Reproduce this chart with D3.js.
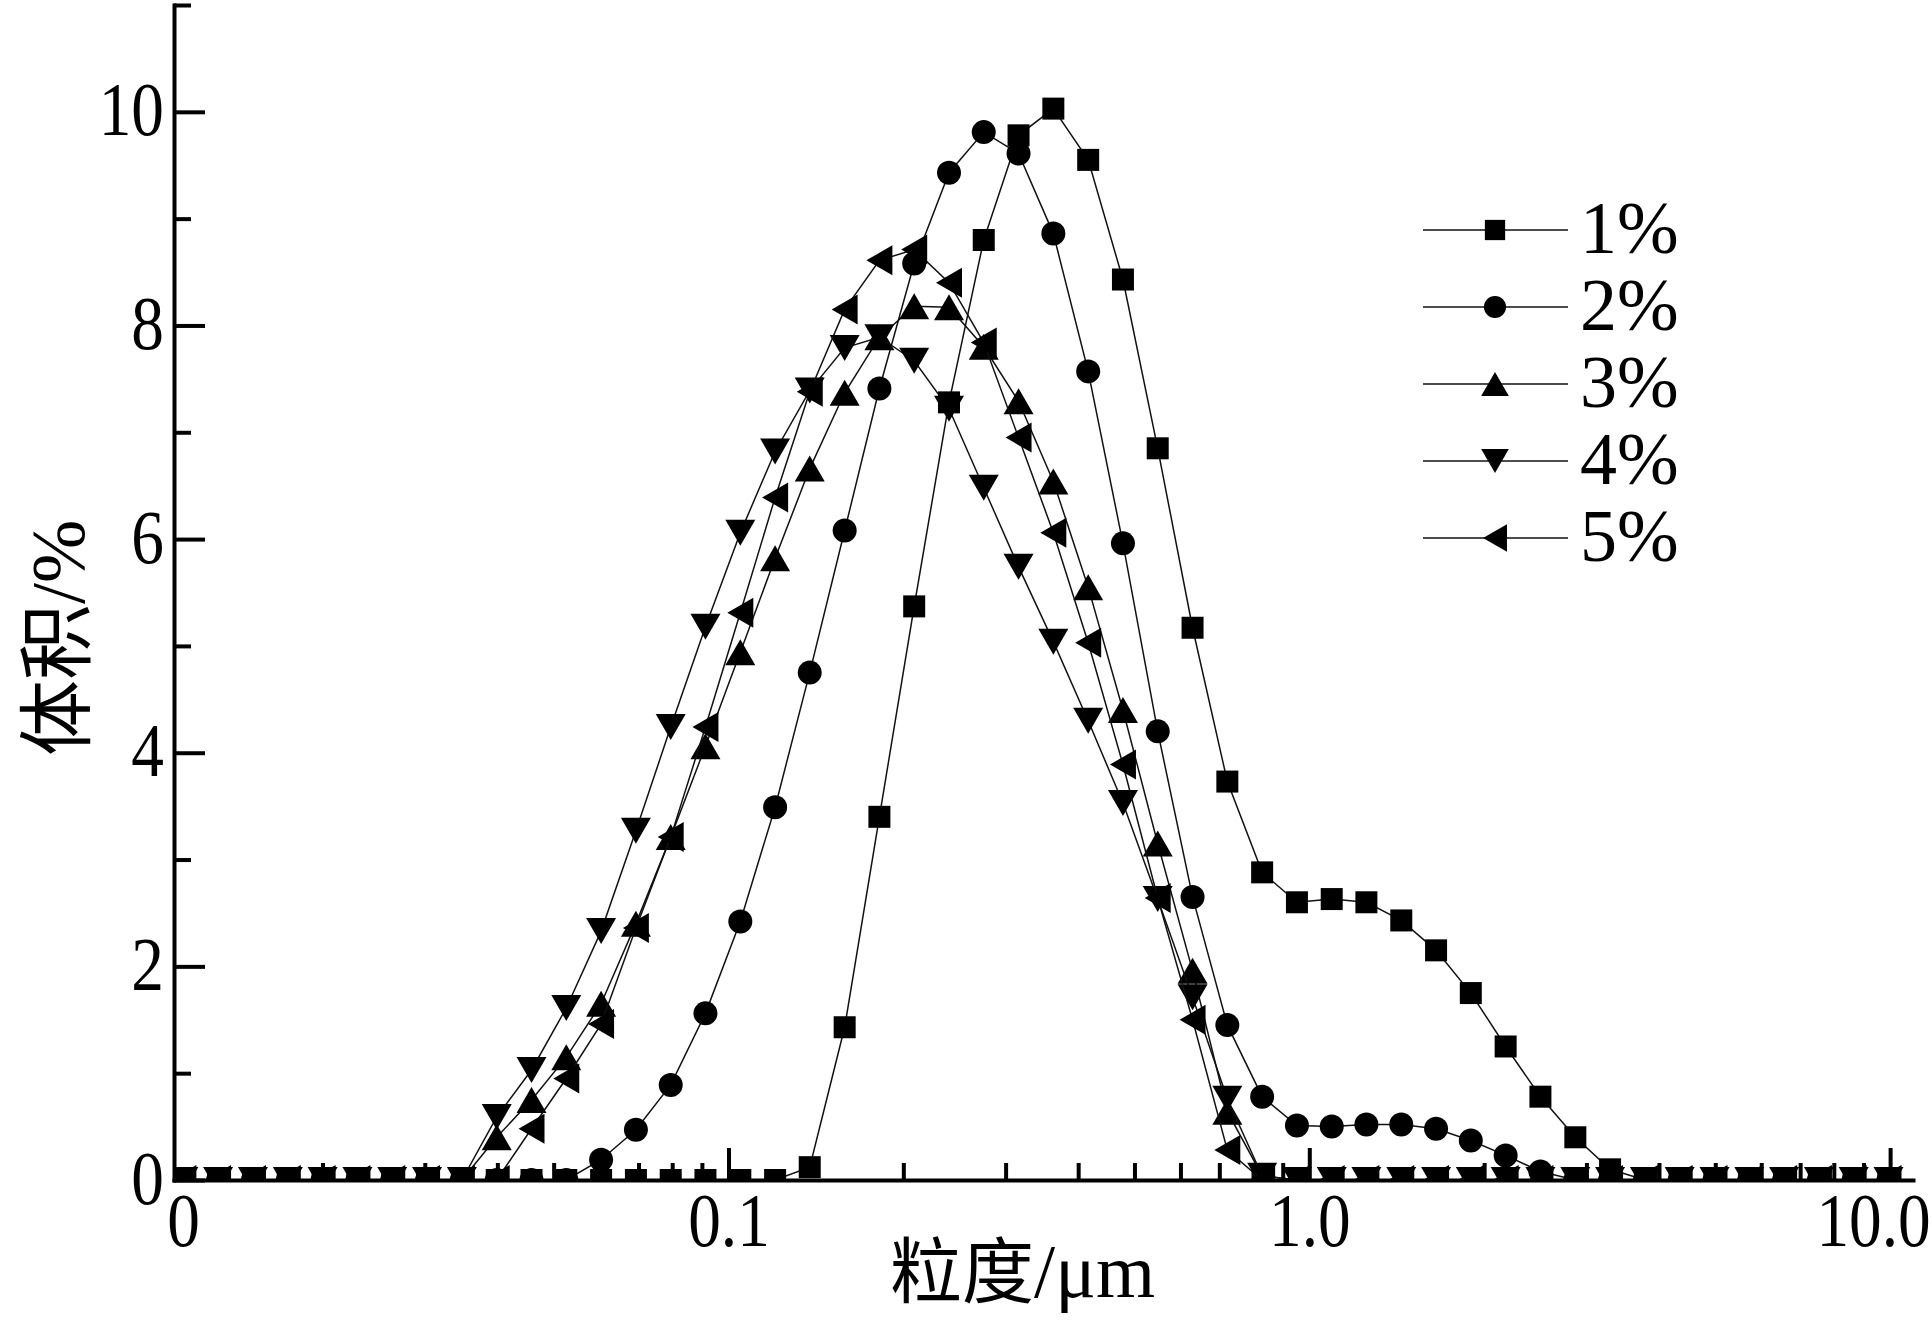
<!DOCTYPE html>
<html lang="zh">
<head>
<meta charset="utf-8">
<title>粒度分布</title>
<script src="https://cdn.jsdelivr.net/npm/d3@7"></script>
<style>
  body { margin: 0; background: #fff; }
  .serif { font-family: "Liberation Serif", "DejaVu Serif", serif; }
  .cjk { font-family: "Noto Sans CJK SC", sans-serif; }
</style>
</head>
<body>
<svg id="chart" width="1932" height="1322"></svg>
<script>
// particle size classes (µm)
var sizes = [0.01152, 0.01322, 0.01518, 0.01743, 0.02001, 0.02297, 0.02637, 0.03027, 0.03475, 0.03990,
             0.04580, 0.05257, 0.06035, 0.06928, 0.07953, 0.09127, 0.1048, 0.1203, 0.1380, 0.1585,
             0.1819, 0.2088, 0.2397, 0.2751, 0.3158, 0.3625, 0.4162, 0.4777, 0.5483, 0.6295,
             0.7226, 0.8295, 0.9522, 1.093, 1.254, 1.440, 1.653, 1.897, 2.178, 2.500,
             2.871, 3.295, 3.783, 4.342, 4.985, 5.722, 6.569, 7.541, 8.656, 9.936];

// volume % for each series
var s1 = [0, 0, 0, 0, 0, 0, 0, 0, 0, 0,
          0, 0, 0, 0, 0, 0, 0, 0, 0.12, 1.43,
          3.40, 5.37, 7.28, 8.80, 9.78, 10.03, 9.55, 8.43, 6.85, 5.17,
          3.73, 2.88, 2.60, 2.63, 2.60, 2.43, 2.15, 1.75, 1.25, 0.78,
          0.40, 0.10, 0, 0, 0, 0, 0, 0, 0, 0];
var s2 = [0, 0, 0, 0, 0, 0, 0, 0, 0, 0,
          0, 0, 0.19, 0.47, 0.89, 1.56, 2.42, 3.49, 4.75, 6.08,
          7.41, 8.58, 9.43, 9.81, 9.61, 8.86, 7.57, 5.96, 4.20, 2.65,
          1.45, 0.78, 0.51, 0.50, 0.52, 0.52, 0.48, 0.37, 0.23, 0.08,
          0, 0, 0, 0, 0, 0, 0, 0, 0, 0];
var s3 = [0, 0, 0, 0, 0, 0, 0, 0, 0, 0.40,
          0.75, 1.15, 1.65, 2.40, 3.21, 4.06, 4.94, 5.82, 6.66, 7.37,
          7.89, 8.18, 8.17, 7.80, 7.29, 6.54, 5.55, 4.40, 3.15, 1.96,
          0.64, 0.04, 0, 0, 0, 0, 0, 0, 0, 0,
          0, 0, 0, 0, 0, 0, 0, 0, 0, 0];
var s4 = [0, 0, 0, 0, 0, 0, 0, 0, 0, 0.59,
          1.03, 1.61, 2.33, 3.27, 4.24, 5.18, 6.06, 6.82, 7.39, 7.79,
          7.89, 7.67, 7.22, 6.48, 5.74, 5.04, 4.30, 3.53, 2.63, 1.71,
          0.76, 0.04, 0, 0, 0, 0, 0, 0, 0, 0,
          0, 0, 0, 0, 0, 0, 0, 0, 0, 0];
var s5 = [0, 0, 0, 0, 0, 0, 0, 0, 0, 0,
          0.48, 0.95, 1.46, 2.36, 3.21, 4.24, 5.31, 6.39, 7.38, 8.15,
          8.61, 8.71, 8.40, 7.84, 6.95, 6.06, 5.03, 3.89, 2.64, 1.50,
          0.28, 0, 0, 0, 0, 0, 0, 0, 0, 0,
          0, 0, 0, 0, 0, 0, 0, 0, 0, 0];

var seriesNames = ["1%", "2%", "3%", "4%", "5%"];
var yMajor = [0, 2, 4, 6, 8, 10];
var yMinor = [1, 3, 5, 7, 9, 11];
var xMajor = [0.1, 1, 10];
var xLabels = ["0", "0.1", "1.0", "10.0"];
var xMinor = [0.02, 0.03, 0.04, 0.05, 0.06, 0.07, 0.08, 0.09,
              0.2, 0.3, 0.4, 0.5, 0.6, 0.7, 0.8, 0.9,
              2, 3, 4, 5, 6, 7, 8, 9];

var svg = d3.select("#chart"),
    plotLeft = 174, plotRight = 1913, plotTop = 5, plotBottom = 1180;

var x = d3.scaleLog().domain([0.0111, 10.95]).range([plotLeft, plotRight]);
var y = d3.scaleLinear().domain([0, 11]).range([plotBottom, plotTop]);

svg.append("clipPath").attr("id", "plot")
   .append("rect")
   .attr("x", plotLeft).attr("y", 0)
   .attr("width", plotRight - plotLeft).attr("height", plotBottom);

// triangle centred on its bounding box, size = side^2
var tri = {
  draw: function(ctx, size) {
    var s = Math.sqrt(size), h = s * Math.sqrt(3) / 2;
    ctx.moveTo(0, -h / 2);
    ctx.lineTo(s / 2, h / 2);
    ctx.lineTo(-s / 2, h / 2);
    ctx.closePath();
  }
};
var marks = [
  {type: d3.symbolSquare, size: 22 * 22, rot: 0},
  {type: d3.symbolCircle, size: Math.PI * 12 * 12, rot: 0},
  {type: tri, size: 30 * 30, rot: 0},
  {type: tri, size: 30 * 30, rot: 180},
  {type: tri, size: 30 * 30, rot: -90}
];

var allSeries = [s1, s2, s3, s4, s5];

var line = d3.line()
    .x(function(d, i) { return x(sizes[i]); })
    .y(function(d) { return y(d); });

var plot = svg.append("g").attr("clip-path", "url(#plot)");

allSeries.forEach(function(s, k) {
  var g = plot.append("g");
  g.append("path")
   .datum(s)
   .attr("d", line)
   .attr("fill", "none")
   .attr("stroke", "#111")
   .attr("stroke-width", 1.5);

  g.selectAll("path.mk")
   .data(s)
   .enter().append("path")
   .attr("class", "mk")
   .attr("d", d3.symbol().type(marks[k].type).size(marks[k].size))
   .attr("transform", function(d, i) {
       return "translate(" + x(sizes[i]) + "," + y(d) + ") rotate(" + marks[k].rot + ")";
   })
   .attr("fill", "#000");
});

// axes
function styleAxis(g) {
  g.selectAll("line").attr("stroke", "#000").attr("stroke-width", 4);
  g.select(".domain").attr("stroke", "#000").attr("stroke-width", 4)
   .attr("stroke-linecap", "square");
}

var xMinorAxis = svg.append("g")
   .attr("transform", "translate(0," + plotBottom + ")")
   .call(d3.axisBottom(x).tickValues(xMinor).tickSize(-17).tickSizeOuter(0).tickFormat(""));
xMinorAxis.select(".domain").remove();
styleAxis(xMinorAxis);

var xMajorAxis = svg.append("g")
   .attr("transform", "translate(0," + plotBottom + ")")
   .call(d3.axisBottom(x).tickValues(xMajor).tickSize(-32).tickSizeOuter(0).tickFormat(""));
styleAxis(xMajorAxis);

var xLabelAxis = svg.append("g")
   .attr("transform", "translate(0," + plotBottom + ")")
   .call(d3.axisBottom(x).tickValues([x.domain()[0]].concat(xMajor)).tickSize(0)
         .tickFormat(function(d, i) { return xLabels[i]; }));
xLabelAxis.select(".domain").remove();
xLabelAxis.selectAll("text")
   .attr("class", "serif")
   .attr("font-size", 76)
   .attr("fill", "#000")
   .attr("y", 66)
   .attr("dy", null)
   .attr("x", function(d, i) {
       if (i === 0) return 9 / 0.86;
       if (i === xLabels.length - 1) return -17 / 0.86;
       return 0;
   })
   .attr("transform", "scale(0.86,1)");

var yMinorAxis = svg.append("g")
   .attr("transform", "translate(" + plotLeft + ",0)")
   .call(d3.axisLeft(y).tickValues(yMinor).tickSize(-17).tickSizeOuter(0).tickFormat(""));
yMinorAxis.select(".domain").remove();
styleAxis(yMinorAxis);

var yAxis = svg.append("g")
   .attr("transform", "translate(" + plotLeft + ",0)")
   .call(d3.axisLeft(y).tickValues(yMajor).tickSize(-31).tickSizeOuter(0));
styleAxis(yAxis);
yAxis.selectAll("text")
   .attr("class", "serif")
   .attr("font-size", 76)
   .attr("fill", "#000")
   .attr("x", -10 / 0.86)
   .attr("y", 23)
   .attr("dy", null)
   .attr("transform", "scale(0.86,1)");

// axis titles
var xt = svg.append("text").attr("x", 890).attr("y", 1297).attr("fill", "#000");
xt.append("tspan").attr("class", "cjk").attr("font-size", 72).text("粒度");
xt.append("tspan").attr("class", "serif").attr("font-size", 76).text("/μm");

var yt = svg.append("text").attr("transform", "translate(84,756) rotate(-90)").attr("fill", "#000");
yt.append("tspan").attr("class", "cjk").attr("font-size", 76).text("体积");
yt.append("tspan").attr("class", "serif").attr("font-size", 76).text("/%");

// legend
var legend = svg.append("g");
seriesNames.forEach(function(name, k) {
  var ly = 230 + k * 77;
  legend.append("line")
     .attr("x1", 1423).attr("x2", 1568)
     .attr("y1", ly).attr("y2", ly)
     .attr("stroke", "#111").attr("stroke-width", 1.5);
  legend.append("path")
     .attr("d", d3.symbol().type(marks[k].type).size(marks[k].size * 0.85))
     .attr("transform", "translate(1495," + ly + ") rotate(" + marks[k].rot + ")")
     .attr("fill", "#000");
  legend.append("text")
     .attr("class", "serif")
     .attr("x", 1580).attr("y", ly + 23)
     .attr("font-size", 74)
     .attr("fill", "#000")
     .text(name);
});
</script>
</body>
</html>
